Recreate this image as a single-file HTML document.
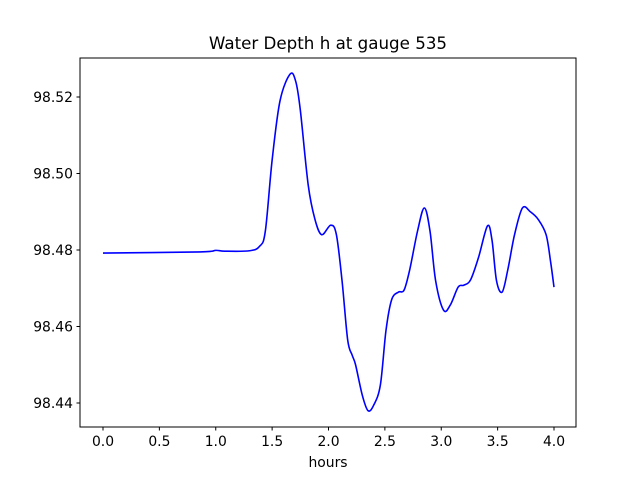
<!DOCTYPE html>
<html><head><meta charset="utf-8"><style>
body{margin:0;background:#fff}
svg{display:block;font-family:"DejaVu Sans","Liberation Sans",sans-serif}
</style></head><body>
<svg width="640" height="480" viewBox="0 0 640 480">
<rect x="0" y="0" width="640" height="480" fill="#fff"/>
<text x="328" y="49" text-anchor="middle" font-size="16.7">Water Depth h at gauge 535</text>
<g id="plot"></g>
<rect x="80" y="58" width="496" height="369" fill="none" stroke="#000" stroke-width="1"/>
<text x="328" y="467" text-anchor="middle" font-size="13.9">hours</text>
</svg>
<script>
const hours=[0,0.86,1.0,1.08,1.3,1.39,1.44,1.5,1.57,1.66,1.71,1.75,1.82,1.88,1.94,2.02,2.07,2.12,2.17,2.21,2.24,2.3,2.35,2.4,2.46,2.51,2.56,2.62,2.67,2.72,2.79,2.85,2.9,2.95,3.02,3.08,3.15,3.2,3.26,3.33,3.41,3.45,3.49,3.54,3.59,3.65,3.72,3.79,3.86,3.93,3.97,4.0];
const depth=[98.4792,98.4795,98.4799,98.4797,98.4798,98.481,98.485,98.5035,98.519,98.526,98.524,98.5166,98.497,98.488,98.484,98.4865,98.484,98.472,98.4565,98.4525,98.45,98.442,98.438,98.4394,98.4447,98.459,98.467,98.469,98.4695,98.4748,98.485,98.491,98.485,98.472,98.4643,98.4656,98.4703,98.4708,98.4722,98.478,98.4863,98.4826,98.472,98.469,98.4748,98.484,98.491,98.490,98.488,98.484,98.4769,98.4703];
const xTicks=[0,0.5,1,1.5,2,2.5,3,3.5,4];
const xTickLabels=["0.0","0.5","1.0","1.5","2.0","2.5","3.0","3.5","4.0"];
const yTicks=[98.44,98.46,98.48,98.50,98.52];
const yTickLabels=["98.44","98.46","98.48","98.50","98.52"];
const NS="http://www.w3.org/2000/svg";
const g=document.getElementById('plot');
const X=t=>103+(t-0)*(554-103)/4;
const Y=v=>250-(v-98.48)*3825;
function mk(tag,attrs){const e=document.createElementNS(NS,tag);for(const k in attrs)e.setAttribute(k,attrs[k]);g.appendChild(e);return e;}
xTicks.forEach((t,i)=>{
 const l=mk('line',{x1:X(t),x2:X(t),y1:427,y2:430.5,stroke:'#000'});
 
 
 const tx=mk('text',{x:X(t),y:446,'text-anchor':'middle','font-size':'13.9'});
 tx.textContent=xTickLabels[i];
 
 
});
yTicks.forEach((v,i)=>{
 const l=mk('line',{x1:76.5,x2:80,y1:Y(v),y2:Y(v),stroke:'#000'});
 
 
 const tx=mk('text',{x:73,y:Y(v)+5,'text-anchor':'end','font-size':'13.9'});
 tx.textContent=yTickLabels[i];
 
 
});
const pts=hours.map((t,i)=>[X(t),Y(depth[i])]);
let d='M'+pts[0][0]+','+pts[0][1];
for(let i=0;i<pts.length-1;i++){
 const p0=pts[Math.max(0,i-1)],p1=pts[i],p2=pts[i+1],p3=pts[Math.min(pts.length-1,i+2)];
 const c1=[p1[0]+(p2[0]-p0[0])/6,p1[1]+(p2[1]-p0[1])/6];
 const c2=[p2[0]-(p3[0]-p1[0])/6,p2[1]-(p3[1]-p1[1])/6];
 d+=' C'+c1+' '+c2+' '+p2;
}
const path=mk('path',{d:d,fill:'none',stroke:'#0000ff','stroke-width':'1.6'});


</script>
</body></html>
